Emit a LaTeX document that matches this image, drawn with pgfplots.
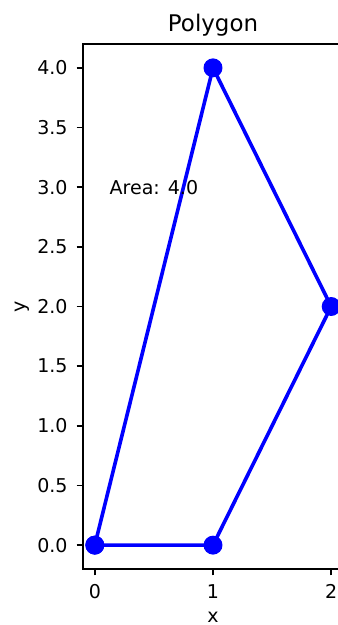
\documentclass[border=0pt]{standalone}
\usepackage{pgfplots}
\pgfplotsset{compat=1.18}
\usepackage{fontspec}
\setmainfont{DejaVu Sans}
\begin{document}
\begin{tikzpicture}
\path[use as bounding box] (0,0) rectangle (243.36pt,450pt);
\begin{axis}[
  at={(59.76pt,40.32pt)}, anchor=south west,
  scale only axis, width=187.2pt, height=378pt,
  xmin=-0.1, xmax=2.1, ymin=-0.2, ymax=4.2,
  xtick={0,1,2}, ytick={0,0.5,1,1.5,2,2.5,3,3.5,4},
  yticklabel style={xshift=-3pt, /pgf/number format/fixed, /pgf/number format/fixed zerofill, /pgf/number format/precision=1},
  /pgf/number format/assume math mode=true,
  tick align=outside, tick pos=left, major tick length=4.6pt,
  every tick/.style={black, line width=1.1pt},
  axis line style={line width=1.1pt},
  ticklabel style={font=\fontsize{13.7}{16}\selectfont},
  xticklabel style={yshift=-3pt},
  title=Polygon, xlabel=x, ylabel=y,
  title style={font=\fontsize{16.5}{19}\selectfont, yshift=-4pt},
  label style={font=\fontsize{13.7}{16}\selectfont},
  xlabel style={yshift=-2.5pt},
  ylabel style={yshift=-1.5pt},
  clip=false,
]
\addplot[blue, line width=2.6pt, mark=*, mark size=5.5pt, mark options={fill=blue, draw=blue}]
  coordinates {(0,0) (1,0) (2,2) (1,4) (0,0)};
\node[font=\fontsize{13.7}{16}\selectfont] at (axis cs:0.5,3) {Area: 4.0};
\end{axis}
\end{tikzpicture}
\end{document}
